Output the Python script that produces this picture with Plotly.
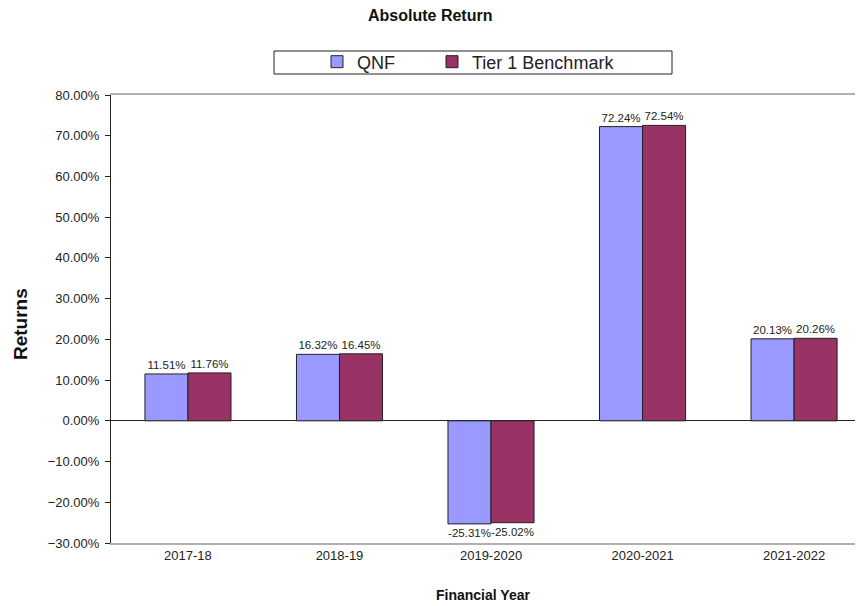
import plotly.graph_objects as go

categories = ["2017-18", "2018-19", "2019-2020", "2020-2021", "2021-2022"]
qnf = [0.1151, 0.1632, -0.2531, 0.7224, 0.2013]
benchmark = [0.1176, 0.1645, -0.2502, 0.7254, 0.2026]
series_names = ["QNF", "Tier 1 Benchmark"]
colors = ["#9999FF", "#993366"]

OFF = 8  # page body margin
W, H = 855, 598
ml, mr, mt = 111 - OFF, 0, 95 - OFF
mb = H - (543 - OFF)
pw, ph = W - ml - mr, H - mt - mb


def px_x(p):
    return (p - OFF - ml) / pw


def px_y(p):
    return (H - mb - (p - OFF)) / ph


fig = go.Figure()
for i, (name, vals, col) in enumerate(zip(series_names, [qnf, benchmark], colors)):
    fig.add_trace(go.Bar(
        x=categories, y=vals, name=name,
        legend="legend" if i == 0 else "legend2",
        marker=dict(color=col, line=dict(color="#222222", width=1)),
        text=[f"{v*100:.2f}%" for v in vals],
        textposition="outside", constraintext="none", cliponaxis=False,
        textfont=dict(family="Arial, Liberation Sans", size=11.5, color="#222222"),
    ))

leg_common = dict(orientation="h", xref="container", yref="container",
                  xanchor="left", yanchor="middle", y=1 - (62 - OFF) / H,
                  font=dict(size=18, color="#222222"),
                  bgcolor="rgba(0,0,0,0)", borderwidth=0)

fig.update_layout(
    width=W, height=H,
    margin=dict(l=ml, r=mr, t=mt, b=mb),
    paper_bgcolor="white", plot_bgcolor="white",
    barmode="group", bargap=0.432, bargroupgap=0,
    font=dict(family="Arial, Liberation Sans", color="#222222"),
    showlegend=True,
    legend=dict(leg_common, x=(317 - OFF) / W),
    legend2=dict(leg_common, x=(432 - OFF) / W),
    xaxis=dict(range=[-0.508, 4.455], showline=True, linecolor="#b0b0b0",
               linewidth=1.5, mirror=True, ticks="", showgrid=False,
               tickfont=dict(size=13, color="#222222"), zeroline=False),
    yaxis=dict(range=[-0.3, 0.8], dtick=0.1, tickformat=".2%", showgrid=False,
               showline=True, linecolor="#222222", linewidth=1, ticks="outside",
               ticklen=5, tickcolor="#222222", zeroline=True,
               zerolinecolor="#222222", zerolinewidth=1, ticklabelstandoff=3,
               tickfont=dict(size=13, color="#222222")),
    shapes=[dict(type="rect", xref="paper", yref="paper",
                 x0=px_x(274), x1=px_x(672), y0=px_y(74), y1=px_y(51),
                 line=dict(color="#222222", width=1), fillcolor="rgba(0,0,0,0)")],
    annotations=[
        dict(text="<b>Absolute Return</b>", xref="paper", yref="paper",
             x=px_x(430), y=px_y(16), showarrow=False,
             xanchor="center", yanchor="middle",
             font=dict(size=16, color="#111111")),
        dict(text="<b>Returns</b>", xref="paper", yref="paper",
             x=px_x(20), y=px_y(324), showarrow=False, textangle=-90,
             xanchor="center", yanchor="middle",
             font=dict(size=19, color="#111111")),
        dict(text="<b>Financial Year</b>", xref="paper", yref="paper",
             x=px_x(483), y=px_y(595), showarrow=False,
             xanchor="center", yanchor="middle",
             font=dict(size=14, color="#111111")),
    ],
)

fig.write_html("out.html")
